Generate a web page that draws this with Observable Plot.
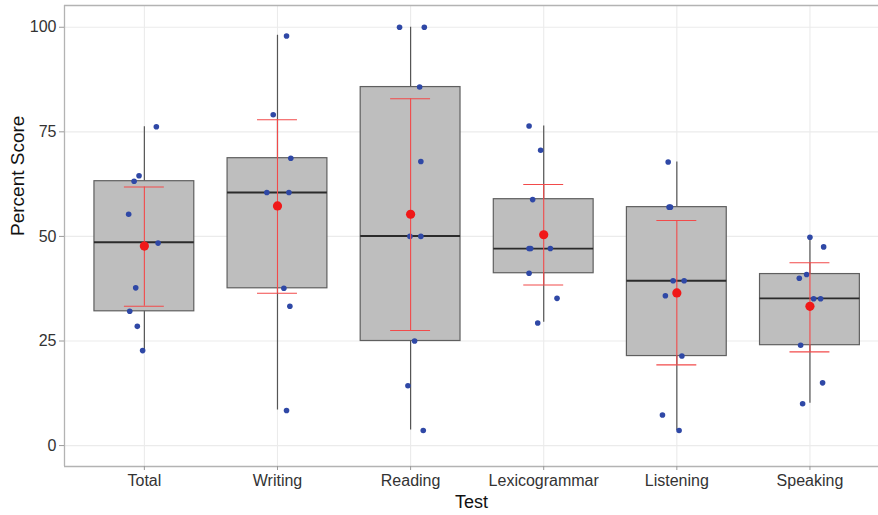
<!DOCTYPE html>
<html>
<head>
<meta charset="utf-8">
<script src="https://cdn.jsdelivr.net/npm/d3@7"></script>
<script src="https://cdn.jsdelivr.net/npm/@observablehq/plot@0.6"></script>
<style>
  html, body { margin: 0; padding: 0; background: #fff; }
  #chart svg { display: block; font-family: "Liberation Sans", Arial, sans-serif; }
</style>
</head>
<body>
<div id="chart"></div>
<script>
// ---- Data ----
const categories = ["Total", "Writing", "Reading", "Lexicogrammar", "Listening", "Speaking"];
const q1          = [32.1, 37.6, 25.0, 41.2, 21.4, 24.0];
const medians     = [48.6, 60.5, 50.1, 47.1, 39.4, 35.2];
const q3          = [63.2, 68.7, 85.7, 58.9, 57.0, 41.0];
const whiskerLow  = [22.7, 8.5, 3.7, 29.5, 3.6, 10.1];
const whiskerHigh = [76.2, 98.1, 100, 76.4, 67.8, 49.8];
const means       = [47.7, 57.3, 55.3, 50.4, 36.5, 33.3];
const errLow      = [33.3, 36.4, 27.5, 38.4, 19.3, 22.4];
const errHigh     = [61.8, 77.9, 82.9, 62.4, 53.8, 43.7];
const yTicks      = [0, 25, 50, 75, 100];

// individual scores (and horizontal jitter, in category units)
const totalScores    = [76.2, 64.5, 63.2, 55.3, 48.4, 37.7, 32.1, 28.5, 22.7];
const totalJitter    = [0.09, -0.04, -0.077, -0.118, 0.103, -0.065, -0.11, -0.053, -0.013];
const writingScores  = [97.9, 79.1, 68.7, 60.5, 60.5, 37.6, 33.3, 8.4];
const writingJitter  = [0.068, -0.032, 0.1, -0.08, 0.086, 0.048, 0.093, 0.068];
const readingScores  = [100, 100, 85.7, 67.9, 50, 50, 25, 14.3, 3.6];
const readingJitter  = [-0.083, 0.103, 0.068, 0.077, -0.005, 0.077, 0.03, -0.02, 0.095];
const lexicoScores   = [76.4, 70.6, 58.8, 47.1, 47.1, 47.1, 41.2, 35.2, 29.3];
const lexicoJitter   = [-0.11, -0.023, -0.083, -0.11, -0.098, 0.05, -0.11, 0.1, -0.045];
const listenScores   = [67.8, 57.0, 57.0, 39.4, 39.4, 35.8, 21.4, 7.3, 3.6];
const listenJitter   = [-0.065, -0.058, -0.048, -0.028, 0.055, -0.086, 0.038, -0.108, 0.017];
const speakScores    = [49.8, 47.5, 40.9, 40.0, 35.1, 35.1, 24.0, 15.0, 10.0];
const speakJitter    = [0, 0.103, -0.025, -0.08, 0.028, 0.08, -0.07, 0.095, -0.055];

const allScores = [totalScores, writingScores, readingScores, lexicoScores, listenScores, speakScores];
const allJitter = [totalJitter, writingJitter, readingJitter, lexicoJitter, listenJitter, speakJitter];

// ---- Tables built from the arrays ----
const boxes = categories.map((c, i) => ({
  test: c, pos: i + 1,
  q1: q1[i], median: medians[i], q3: q3[i],
  lo: whiskerLow[i], hi: whiskerHigh[i],
  mean: means[i], eLo: errLow[i], eHi: errHigh[i]
}));
const points = [];
allScores.forEach((arr, i) => arr.forEach((v, j) => points.push({pos: i + 1, value: v, jitter: allJitter[i][j]})));

const BOX_HALF = 0.375, CAP_HALF = 0.15;
const X_DOMAIN = [0.4, 6.515], Y_DOMAIN = [-5, 105.2];

const chart = Plot.plot({
  width: 878,
  height: 515,
  marginLeft: 64,
  marginRight: 0,
  marginTop: 5,
  marginBottom: 49,
  style: {fontFamily: "Liberation Sans, Arial, sans-serif", background: "#fff"},
  x: {type: "linear", domain: X_DOMAIN, axis: null},
  y: {domain: Y_DOMAIN, axis: null},
  marks: [
    // grid
    Plot.ruleY(yTicks, {stroke: "#ebebeb", strokeWidth: 1.1}),
    Plot.ruleX(boxes, {x: "pos", stroke: "#ebebeb", strokeWidth: 1.1}),
    // panel border (left, top, bottom)
    Plot.ruleX([X_DOMAIN[0]], {stroke: "#b3b3b3", strokeWidth: 1.3}),
    Plot.ruleY(Y_DOMAIN, {stroke: "#b3b3b3", strokeWidth: 1.3}),
    // whiskers
    Plot.ruleX(boxes, {x: "pos", y1: "lo", y2: "hi", stroke: "#555", strokeWidth: 1.2}),
    // boxes
    Plot.rect(boxes, {x1: d => d.pos - BOX_HALF, x2: d => d.pos + BOX_HALF, y1: "q1", y2: "q3",
      fill: "#bebebe", stroke: "#5f5f5f", strokeWidth: 1.2}),
    // medians
    Plot.ruleY(boxes, {y: "median", x1: d => d.pos - BOX_HALF, x2: d => d.pos + BOX_HALF,
      stroke: "#2b2b2b", strokeWidth: 1.8}),
    // individual points
    Plot.dot(points, {x: d => d.pos + d.jitter, y: "value", r: 2.8, fill: "#2f48a6", stroke: "none"}),
    // error bars
    Plot.ruleX(boxes, {x: "pos", y1: "eLo", y2: "eHi", stroke: "#f24a4a", strokeWidth: 1.1}),
    Plot.ruleY(boxes, {y: "eLo", x1: d => d.pos - CAP_HALF, x2: d => d.pos + CAP_HALF, stroke: "#f24a4a", strokeWidth: 1.1}),
    Plot.ruleY(boxes, {y: "eHi", x1: d => d.pos - CAP_HALF, x2: d => d.pos + CAP_HALF, stroke: "#f24a4a", strokeWidth: 1.1}),
    // means
    Plot.dot(boxes, {x: "pos", y: "mean", r: 4.6, fill: "#f01818", stroke: "none"}),
    // axes
    Plot.axisY({ticks: yTicks, tickSize: 5, tickFormat: () => "", color: "#9a9a9a", label: null}),
    Plot.axisY({ticks: yTicks, tickSize: 0, tickPadding: 8, fontSize: 16, color: "#333", label: null}),
    Plot.axisX({ticks: boxes.map(d => d.pos), tickSize: 4, tickFormat: () => "", color: "#9a9a9a", label: null}),
    Plot.axisX({ticks: boxes.map(d => d.pos), tickSize: 0, tickPadding: 8, fontSize: 16, color: "#333",
      tickFormat: p => categories[p - 1], label: null}),
    // axis titles
    Plot.text(["Percent Score"], {frameAnchor: "left", dx: -47, rotate: -90, fontSize: 19, fill: "#111", text: d => d}),
    Plot.text(["Test"], {frameAnchor: "bottom", dy: 41, fontSize: 18, fill: "#111", text: d => d})
  ]
});
document.getElementById("chart").appendChild(chart);
</script>
</body>
</html>
